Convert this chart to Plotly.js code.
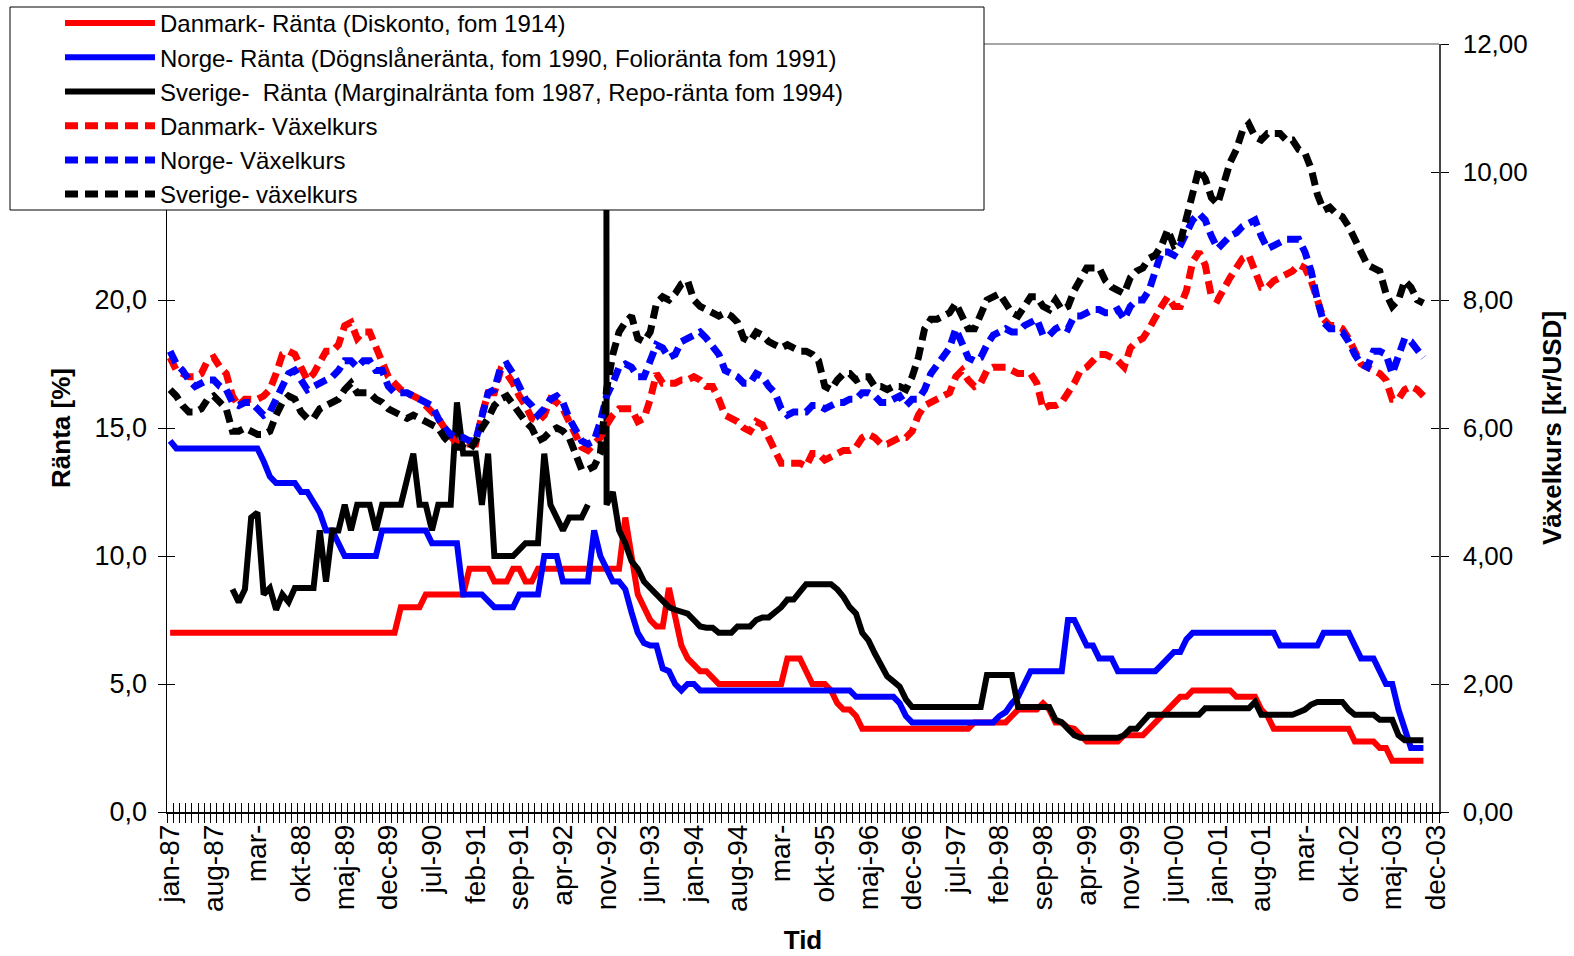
<!DOCTYPE html>
<html><head><meta charset="utf-8">
<script src="https://cdn.plot.ly/plotly-3.0.1.min.js"></script>
<style>html,body{margin:0;padding:0;background:#fff}</style>
</head><body><div id="chart" style="width:1574px;height:956px"></div>
<script>
// Categories: months jan-87 .. dec-03
const monthNames = ['jan','feb','mar','apr','maj','jun','jul','aug','sep','okt','nov','dec'];
const years = ['87','88','89','90','91','92','93','94','95','96','97','98','99','00','01','02','03'];
const months = [];
years.forEach(y => monthNames.forEach(m => months.push(m + '-' + y)));

// Displayed tick labels (every 7th month)
const tickLabels = ['jan-87','aug-87','mar-','okt-88','maj-89','dec-89','jul-90','feb-91','sep-91','apr-92','nov-92','jun-93','jan-94','aug-94','mar-','okt-95','maj-96','dec-96','jul-97','feb-98','sep-98','apr-99','nov-99','jun-00','jan-01','aug-01','mar-','okt-02','maj-03','dec-03'];

// Interest rates [%] (left axis), jan-87 .. okt-03
const dkRate = [7,7,7,7,7,7,7,7,7,7, 7,7,7,7,7,7,7,7,7,7, 7,7,7,7,7,7,7,7,7,7, 7,7,7,7,7,7,7,8,8,8,
 8,8.5,8.5,8.5,8.5,8.5,8.5,8.5,9.5,9.5, 9.5,9.5,9,9,9,9.5,9.5,9,9,9.5, 9.5,9.5,9.5,9.5,9.5,9.5,9.5,9.5,9.5,9.5,
 9.5,9.5,9.5,11.5,10,8.5,8,7.5,7.25,7.25, 8.75,7.5,6.5,6,5.75,5.5,5.5,5.25,5,5, 5,5,5,5,5,5,5,5,5,6,
 6,6,5.5,5,5,5,4.75,4.25,4,4, 3.75,3.25,3.25,3.25,3.25,3.25,3.25,3.25,3.25,3.25, 3.25,3.25,3.25,3.25,3.25,3.25,3.25,3.25,3.25,3.5,
 3.5,3.5,3.5,3.5,3.5,3.75,4,4,4,4, 4.25,4,3.5,3.5,3.3,3.25,3,2.75,2.75,2.75, 2.75,2.75,2.75,3,3,3,3,3.25,3.5,3.75,
 4,4.25,4.5,4.5,4.75,4.75,4.75,4.75,4.75,4.75, 4.75,4.5,4.5,4.5,4.5,4,3.75,3.25,3.25,3.25, 3.25,3.25,3.25,3.25,3.25,3.25,3.25,3.25,3.25,3.25,
 2.75,2.75,2.75,2.75,2.5,2.5,2,2,2,2, 2,2];
const noRate = [14.5,14.2,14.2,14.2,14.2,14.2,14.2,14.2,14.2,14.2, 14.2,14.2,14.2,14.2,14.2,13.7,13.1,12.85,12.85,12.85,
 12.85,12.5,12.5,12.1,11.7,11,11,10.5,10,10, 10,10,10,10,11,11,11,11,11,11, 11,11,10.5,10.5,10.5,10.5,10.5,8.5,8.5,8.5,
 8.5,8.25,8,8,8,8,8.5,8.5,8.5,8.5, 10,10,10,9,9,9,9,9,11,10, 9.5,9,9,8.7,7.8,7,6.6,6.5,6.5,5.6,
 5.5,5,4.75,5,5,4.75,4.75,4.75,4.75,4.75, 4.75,4.75,4.75,4.75,4.75,4.75,4.75,4.75,4.75,4.75, 4.75,4.75,4.75,4.75,4.75,4.75,4.75,4.75,4.75,4.75,
 4.5,4.5,4.5,4.5,4.5,4.5,4.5,4.25,3.75,3.5, 3.5,3.5,3.5,3.5,3.5,3.5,3.5,3.5,3.5,3.5, 3.5,3.5,3.5,3.75,3.9,4.25,4.5,5,5.5,5.5,
 5.5,5.5,5.5,5.5,7.5,7.5,7,6.5,6.5,6, 6,6,5.5,5.5,5.5,5.5,5.5,5.5,5.5,5.75, 6,6.25,6.25,6.75,7,7,7,7,7,7,
 7,7,7,7,7,7,7,7,6.5,6.5, 6.5,6.5,6.5,6.5,6.5,7,7,7,7,7, 6.5,6,6,6,5.5,5,5,4,3.25,2.5, 2.5,2.5];
const seRate = [null,null,null,null,null,null,null,null,null,null, 8.7,8.2,8.7,11.5,11.7,8.5,8.75,7.9,8.5,8.2,
 8.75,8.75,8.75,8.75,11,9,11,11,12,11, 12,12,12,11,12,12,12,12,13,14, 12,12,11,12,12,12,16,14,14,14,
 12,14,10,10,10,10,10.25,10.5,10.5,10.5, 14,12,11.5,11,11.5,11.5,11.5,12,null,500, 12,12.5,11,10.5,9.8,9.5,9,8.75,8.5,8.25,
 8,7.9,7.8,7.75,7.5,7.25,7.2,7.2,7,7, 7,7.25,7.25,7.25,7.5,7.6,7.6,7.8,8,8.3, 8.3,8.6,8.9,8.9,8.9,8.9,8.9,8.7,8.4,8,
 7.75,7,6.7,6.2,5.75,5.3,5.1,4.9,4.4,4.1, 4.1,4.1,4.1,4.1,4.1,4.1,4.1,4.1,4.1,4.1, 4.1,5.35,5.35,5.35,5.35,5.35,4.1,4.1,4.1,4.1,
 4.1,4.1,3.6,3.5,3.25,3,2.9,2.9,2.9,2.9, 2.9,2.9,2.9,3,3.25,3.25,3.5,3.8,3.8,3.8, 3.8,3.8,3.8,3.8,3.8,3.8,4.05,4.05,4.05,4.05,
 4.05,4.05,4.05,4.05,4.3,3.8,3.8,3.8,3.8,3.8, 3.8,3.9,4,4.2,4.3,4.3,4.3,4.3,4.3,4, 3.8,3.8,3.8,3.8,3.6,3.6,3.6,3,2.8,2.8, 2.8,2.8];

// Exchange rates [kr/USD] (right axis)
const dkFx = [7.10,6.90,6.85,6.80,6.80,6.85,7.05,7.10,6.95,6.85, 6.50,6.35,6.45,6.45,6.45,6.50,6.60,6.85,7.15,7.20,
 7.15,6.95,6.75,6.85,7.05,7.20,7.20,7.30,7.60,7.65, 7.40,7.50,7.50,7.25,7.05,6.80,6.70,6.60,6.55,6.50,
 6.45,6.35,6.25,6.15,6.00,5.85,5.75,5.75,5.75,5.75, 6.20,6.55,6.55,6.90,6.85,6.70,6.50,6.35,6.15,6.10,
 6.20,6.45,6.40,6.30,6.10,5.90,5.70,5.65,5.75,5.85, 6.05,6.20,6.30,6.30,6.30,6.10,6.15,6.45,6.85,6.70,
 6.70,6.70,6.75,6.75,6.80,6.75,6.65,6.65,6.45,6.20, 6.15,6.10,6.00,5.95,6.10,6.05,5.85,5.65,5.45,5.45,
 5.45,5.45,5.40,5.60,5.60,5.50,5.55,5.60,5.65,5.65, 5.70,5.85,5.90,5.85,5.75,5.75,5.80,5.85,5.85,5.95,
 6.20,6.35,6.40,6.45,6.50,6.55,6.80,6.90,6.75,6.65, 6.70,6.90,6.95,6.95,6.95,6.90,6.85,6.85,6.85,6.70,
 6.30,6.35,6.35,6.40,6.55,6.70,6.90,6.95,7.05,7.15, 7.15,7.10,7.05,6.95,7.25,7.35,7.40,7.55,7.75,7.90,
 8.05,7.90,7.90,8.15,8.60,8.75,8.55,8.05,8.00,8.20, 8.35,8.50,8.65,8.70,8.45,8.20,8.20,8.30,8.35,8.40,
 8.45,8.55,8.50,8.30,8.00,7.70,7.60,7.60,7.55,7.40, 7.20,7.00,6.95,6.90,6.85,6.75,6.45,6.45,6.60,6.65, 6.60,6.50];
const noFx = [7.20,7.00,6.90,6.75,6.65,6.70,6.75,6.75,6.65,6.60, 6.40,6.35,6.40,6.40,6.30,6.20,6.25,6.45,6.70,6.85,
 6.90,6.75,6.60,6.65,6.70,6.75,6.80,6.90,7.05,7.05, 6.95,7.05,7.05,6.90,6.90,6.65,6.55,6.55,6.55,6.50,
 6.45,6.40,6.35,6.15,6.00,5.90,5.85,5.85,5.80,5.80, 6.20,6.55,6.60,6.95,7.00,6.85,6.65,6.45,6.35,6.20,
 6.30,6.45,6.50,6.40,6.15,5.95,5.80,5.75,5.80,6.10, 6.50,6.70,6.95,7.00,6.95,6.80,6.80,7.05,7.30,7.25,
 7.10,7.15,7.35,7.40,7.45,7.50,7.40,7.25,7.15,6.90, 6.85,6.80,6.70,6.70,6.85,6.80,6.65,6.55,6.30,6.20,
 6.25,6.25,6.25,6.35,6.35,6.30,6.35,6.40,6.40,6.45, 6.45,6.55,6.55,6.50,6.40,6.40,6.45,6.50,6.35,6.45,
 6.45,6.60,6.85,7.00,7.10,7.25,7.55,7.35,7.10,7.05, 7.10,7.30,7.45,7.50,7.55,7.50,7.50,7.60,7.65,7.70,
 7.45,7.45,7.55,7.60,7.55,7.75,7.75,7.80,7.85,7.85, 7.80,7.80,7.85,7.70,7.90,8.00,8.00,8.15,8.45,8.75,
 8.75,8.70,8.85,9.05,9.25,9.35,9.25,9.00,8.80,8.90, 9.00,9.05,9.15,9.20,9.25,9.00,8.80,8.85,8.90,8.95,
 8.95,8.95,8.75,8.45,8.00,7.65,7.55,7.55,7.50,7.35, 7.15,7.00,6.95,7.20,7.20,7.15,6.85,7.10,7.40,7.35, 7.20,7.10];
const seFx = [6.60,6.50,6.35,6.25,6.25,6.30,6.45,6.50,6.40,6.30, 5.95,5.95,6.00,5.95,5.90,5.90,5.95,6.20,6.40,6.50,
 6.45,6.25,6.15,6.15,6.30,6.35,6.40,6.45,6.60,6.70, 6.55,6.55,6.55,6.45,6.40,6.30,6.25,6.20,6.15,6.20,
 6.15,6.10,6.05,6.00,5.85,5.75,5.70,5.70,5.65,5.80, 6.00,6.15,6.35,6.45,6.50,6.35,6.25,6.10,6.00,5.80,
 5.85,5.95,6.00,5.95,5.85,5.60,5.35,5.35,5.40,5.60, 6.60,7.15,7.50,7.65,7.75,7.40,7.35,7.50,7.95,8.05,
 8.00,8.10,8.25,8.30,8.00,7.90,7.85,7.80,7.75,7.80, 7.75,7.65,7.40,7.35,7.50,7.45,7.35,7.30,7.25,7.30,
 7.25,7.20,7.20,7.15,7.05,6.65,6.60,6.75,6.85,6.85, 6.75,6.80,6.80,6.65,6.65,6.60,6.65,6.65,6.60,6.80,
 7.10,7.55,7.70,7.70,7.75,7.80,7.95,7.75,7.55,7.55, 7.75,8.00,8.05,8.10,7.95,7.80,7.75,7.90,8.05,8.05,
 7.90,7.85,8.00,7.85,7.90,8.15,8.35,8.50,8.50,8.50, 8.30,8.20,8.15,8.10,8.35,8.45,8.50,8.65,8.70,8.85,
 9.10,8.85,8.90,9.25,9.70,10.05,9.90,9.60,9.50,9.85, 10.15,10.35,10.65,10.75,10.55,10.50,10.60,10.60,10.60,10.50,
 10.50,10.35,10.30,10.05,9.65,9.40,9.45,9.35,9.30,9.15, 8.95,8.75,8.55,8.50,8.45,8.10,7.90,8.00,8.30,8.20, 8.00,7.95];

const seriesNames = [
  'Danmark- Ränta (Diskonto, fom 1914)',
  'Norge- Ränta (Dögnslåneränta, fom 1990, Folioränta fom 1991)',
  'Sverige-\u00a0 Ränta (Marginalränta fom 1987, Repo-ränta fom 1994)',
  'Danmark- Växelkurs',
  'Norge- Växelkurs',
  'Sverige- växelkurs'
];

const leftTicks = [0, 5, 10, 15, 20];
const rightTicks = [0, 2, 4, 6, 8, 10, 12];

const FONT = 'Liberation Sans, Arial, sans-serif';
const xData = months.slice(0, dkRate.length);

function solid(y, name, color) {
  return {x: xData, y: y, name: name, type: 'scatter', mode: 'lines', xaxis: 'x', yaxis: 'y',
    line: {color: color, width: 6}, hoverinfo: 'skip'};
}
function dashed(y, name, color) {
  return {x: xData, y: y, name: name, type: 'scatter', mode: 'lines', xaxis: 'x', yaxis: 'y2',
    line: {color: color, width: 7, dash: '13px,7px'}, hoverinfo: 'skip'};
}

const traces = [
  solid(dkRate, seriesNames[0], '#FF0000'),
  solid(noRate, seriesNames[1], '#0000FF'),
  solid(seRate, seriesNames[2], '#000000'),
  dashed(dkFx, seriesNames[3], '#FF0000'),
  dashed(noFx, seriesNames[4], '#0000FF'),
  dashed(seFx, seriesNames[5], '#000000'),
  // invisible helpers carrying the inner tick marks
  {x: [months[0]], y: [null], xaxis: 'x2', yaxis: 'y', showlegend: false, hoverinfo: 'skip', mode: 'lines'},
  {x: [months[0]], y: [null], xaxis: 'x', yaxis: 'y3', showlegend: false, hoverinfo: 'skip', mode: 'lines'},
  {x: [months[0]], y: [null], xaxis: 'x', yaxis: 'y4', showlegend: false, hoverinfo: 'skip', mode: 'lines'}
];

const tickText = months.map((m, i) => (i % 7 === 0 ? tickLabels[i / 7] : ''));
const boundaries = [];
for (let i = 0; i <= months.length; i++) boundaries.push(i - 0.5);

// plot area: x 167..1439 px, y 44..812 px
const PX = px => (px - 167) / 1272;
const PY = py => 1 - (py - 44) / 768;

const layout = {
  width: 1574, height: 956,
  margin: {l: 167, r: 135, t: 44, b: 144, pad: 0, autoexpand: false},
  paper_bgcolor: '#fff', plot_bgcolor: '#fff',
  separators: ', ',
  font: {family: FONT, size: 26, color: '#000'},
  showlegend: true,
  hovermode: false,
  legend: {
    x: PX(60), y: PY(1), xanchor: 'left', yanchor: 'top',
    bgcolor: 'rgba(0,0,0,0)', borderwidth: 0,
    font: {family: FONT, size: 24, color: '#000'},
    tracegroupgap: 0, itemwidth: 90
  },
  xaxis: {
    type: 'category', categoryorder: 'array', categoryarray: months,
    range: [-0.5, months.length - 0.5],
    tickmode: 'array', tickvals: months, ticktext: tickText, tickangle: -90,
    ticks: 'outside', ticklen: 9, tickwidth: 1, tickcolor: '#000', tickson: 'boundaries',
    showline: true, linecolor: '#000', linewidth: 1.5,
    showgrid: false, zeroline: false,
    tickfont: {family: FONT, size: 28, color: '#000'},
    title: {text: '<b>Tid</b>', standoff: 20, font: {family: FONT, size: 26, color: '#000'}},
    automargin: false
  },
  xaxis2: {
    overlaying: 'x', anchor: 'y', side: 'bottom', type: 'linear',
    range: [-0.5, months.length - 0.5],
    tickmode: 'array', tickvals: boundaries, ticks: 'inside', ticklen: 9, tickwidth: 1, tickcolor: '#000',
    showticklabels: false, showline: false, showgrid: false, zeroline: false
  },
  yaxis: {
    range: [0, 30], tickmode: 'array', tickvals: leftTicks, tickformat: '.1f',
    ticks: 'outside', ticklen: 8, tickcolor: '#000', ticklabelstandoff: 5,
    showline: true, linecolor: '#000', linewidth: 1.5,
    showgrid: false, zeroline: false,
    tickfont: {family: FONT, size: 27, color: '#000'},
    title: {text: '<b>Ränta [%]</b>', standoff: 16, font: {family: FONT, size: 26, color: '#000'}},
    automargin: false
  },
  yaxis2: {
    overlaying: 'y', side: 'right', anchor: 'x',
    range: [0, 12], tickmode: 'array', tickvals: rightTicks, tickformat: '.2f',
    ticks: 'outside', ticklen: 8, tickcolor: '#000', ticklabelstandoff: 9,
    showline: true, linecolor: '#444', linewidth: 1.5,
    showgrid: false, zeroline: false,
    tickfont: {family: FONT, size: 26, color: '#000'},
    title: {text: '<b>Växelkurs [kr/USD]</b>', standoff: 16, font: {family: FONT, size: 26, color: '#000'}},
    automargin: false
  },
  yaxis3: {
    overlaying: 'y', side: 'left', anchor: 'x', range: [0, 30], tick0: 0, dtick: 5,
    ticks: 'inside', ticklen: 8, tickcolor: '#000', showticklabels: false,
    showline: false, showgrid: false, zeroline: false
  },
  yaxis4: {
    overlaying: 'y', side: 'right', anchor: 'x', range: [0, 12], tick0: 0, dtick: 2,
    ticks: 'inside', ticklen: 8, tickcolor: '#000', showticklabels: false,
    showline: false, showgrid: false, zeroline: false
  },
  shapes: [
    {type: 'line', xref: 'paper', yref: 'paper', x0: 0, x1: 1, y0: 1, y1: 1,
      line: {color: '#888', width: 1.5}},
    // legend frame
    {type: 'rect', xref: 'paper', yref: 'paper', layer: 'above',
      x0: PX(10), x1: PX(984), y0: PY(210), y1: PY(7),
      fillcolor: '#fff', line: {color: '#000', width: 1}}
  ]
};

Plotly.newPlot('chart', traces, layout, {displayModeBar: false, staticPlot: true});
</script></body></html>
